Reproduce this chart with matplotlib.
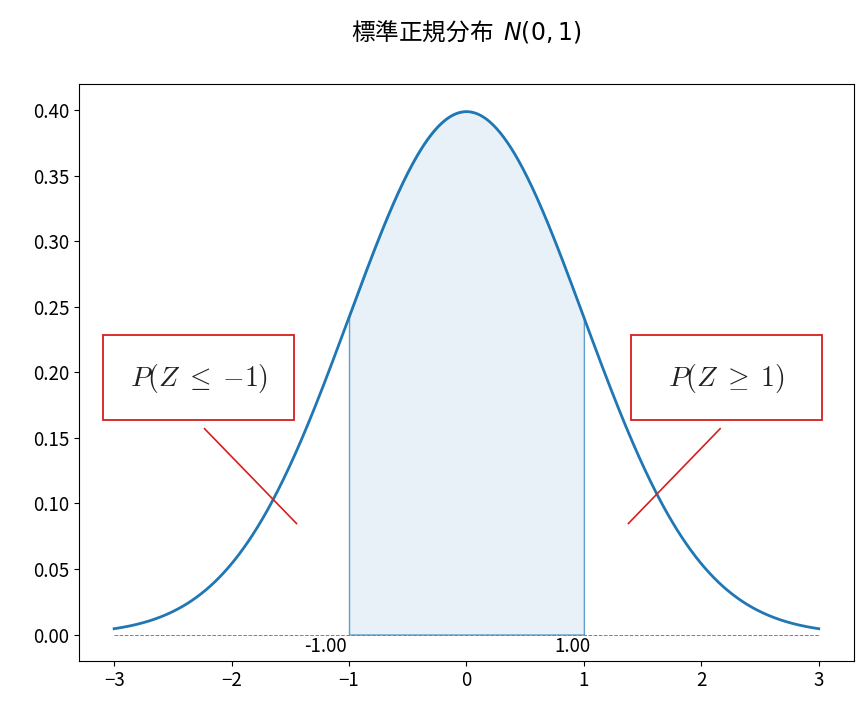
import numpy as np
import matplotlib
matplotlib.use("Agg")
import matplotlib.pyplot as plt
from matplotlib.patches import Rectangle

plt.rcParams['font.family'] = ['Noto Sans CJK JP', 'DejaVu Sans']

# standard normal N(0,1)
mu = 0.0
sigma = 1.0
x_min, x_max = -3.0, 3.0
lower, upper = -1.0, 1.0
title = "標準正規分布  $N(0,1)$"
left_label = r"$P(Z\;\leq\;{-}1)$"
right_label = r"$P(Z\;\geq\;1)$"
x_ticks = [-3, -2, -1, 0, 1, 2, 3]
y_ticks = [0.00, 0.05, 0.10, 0.15, 0.20, 0.25, 0.30, 0.35, 0.40]


def pdf(x):
    return np.exp(-0.5 * ((x - mu) / sigma) ** 2) / (sigma * np.sqrt(2 * np.pi))


x = np.linspace(x_min, x_max, 601)
y = pdf(x)

fig, ax = plt.subplots(figsize=(8.67, 7.12), dpi=100)
fig.subplots_adjust(left=0.091, right=0.985, bottom=0.072, top=0.882)

ax.plot(x, y, color="tab:blue", lw=2)
ax.hlines(0, x_min, x_max, colors="gray", linestyles="--", lw=0.7)

xs = np.linspace(lower, upper, 201)
ax.fill_between(xs, pdf(xs), 0, facecolor=(0.12, 0.47, 0.71, 0.1),
                edgecolor=(0.12, 0.47, 0.71, 0.7), lw=1)

ax.text(lower - 0.2, -0.009, f"{lower:.2f}", ha="center", va="center", fontsize=13.5)
ax.text(upper - 0.1, -0.009, f"{upper:.2f}", ha="center", va="center", fontsize=13.5)

# boxes for tail probabilities
ax.add_patch(Rectangle((-3.098, 0.1634), 1.626, 0.0648, fill=False,
                       edgecolor="#d61f1f", lw=1.3))
ax.add_patch(Rectangle((1.404, 0.1634), 1.626, 0.0648, fill=False,
                       edgecolor="#d61f1f", lw=1.3))
ax.text(-2.28, 0.195, left_label, ha="center", va="center", fontsize=20,
        math_fontfamily="cm", color="#222222")
ax.text(2.21, 0.195, right_label, ha="center", va="center", fontsize=20,
        math_fontfamily="cm", color="#222222")
ax.plot([-2.23, -1.447], [0.157, 0.0847], color="#d61f1f", lw=1.2)
ax.plot([2.16, 1.379], [0.157, 0.0847], color="#d61f1f", lw=1.2)

ax.set_xlim(-3.3, 3.3)
ax.set_ylim(-0.02, 0.42)
ax.set_xticks(x_ticks)
ax.set_yticks(y_ticks)
ax.set_yticklabels([f"{v:.2f}" for v in y_ticks])
ax.tick_params(labelsize=13.5)
ax.set_title(title, fontsize=17, pad=32)

fig.savefig("out.png", dpi=100)
